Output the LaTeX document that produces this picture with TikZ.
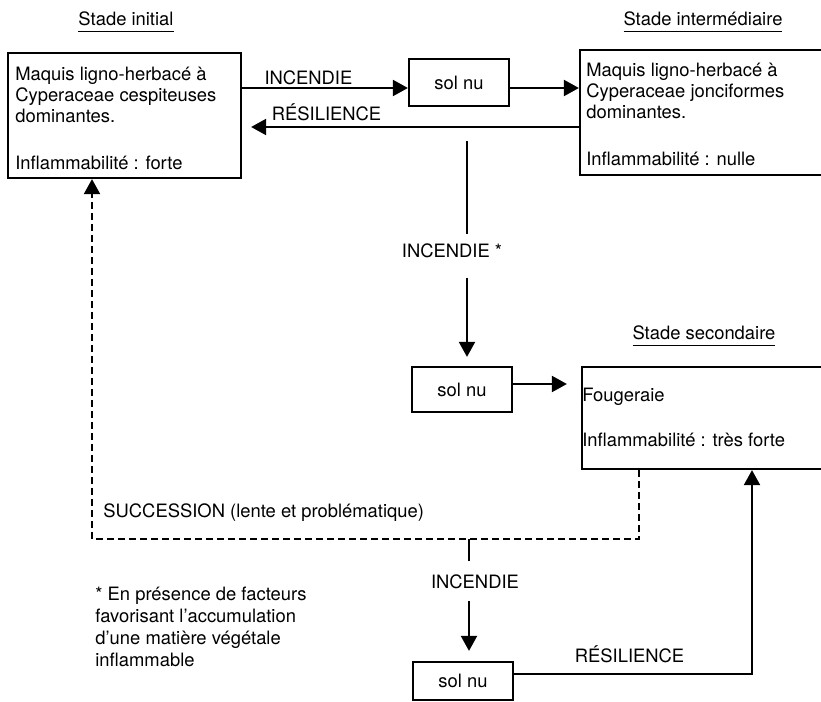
\documentclass[tikz,border=0pt]{standalone}
\usepackage{fontspec}
\setmainfont{TeX Gyre Heros}
\usetikzlibrary{arrows.meta}

\begin{document}
\begin{tikzpicture}[
  x=0.5pt,y=-0.5pt,
  font=\fontsize{9.2}{10.6}\selectfont,
  >={Triangle[length=7.5pt,width=8pt]},
  stage/.style={draw,line width=1.1pt,inner sep=0pt},
  solnu/.style={draw,line width=1.1pt,minimum width=50pt,inner sep=0pt},
  boxtext/.style={anchor=north west,align=left,inner sep=0pt},
  stagetitle/.style={anchor=base,inner sep=0pt},
  flow/.style={->,line width=1pt},
  plain/.style={line width=1pt},
  succ/.style={->,line width=1pt,dash pattern=on 3.5pt off 2pt},
  lbl/.style={inner sep=1pt},
]
\useasboundingbox (0,0) rectangle (821,702);

% ---- stage titles ----
\node[stagetitle] (tInit)   at (126,25)  {\underline{Stade initial\vphantom{g}}};
\node[stagetitle] (tInterm) at (703,25)  {\underline{Stade intermédiaire\vphantom{g}}};
\node[stagetitle] (tSecond) at (704,339) {\underline{Stade secondaire\vphantom{g}}};

% ---- the three stages ----
\node[stage,minimum width=116.5pt,minimum height=62.5pt] (initial) at (124.5,115.5) {};
\node[boxtext] (initialText) at ([xshift=4pt,yshift=-7.2pt]initial.north west)
     {Maquis ligno-herbacé à\\Cyperaceae cespiteuses\\dominantes.\\[12.9pt]
      Inflammabilité : forte};

% right edges run off the page, as in the scan
\node[stage,minimum width=130pt,minimum height=62.5pt] (interm) at (710,112.5) {};
\node[boxtext] (intermText) at ([xshift=3.5pt,yshift=-6.7pt]interm.north west)
     {Maquis ligno-herbacé à\\Cyperaceae jonciformes\\dominantes.\\[12.9pt]
      Inflammabilité : nulle};

\node[stage,minimum width=129pt,minimum height=51pt] (second) at (711,418) {};
\node[boxtext] (secondText) at ([xshift=0.5pt,yshift=-10.9pt]second.north west)
     {Fougeraie\\[11.9pt]Inflammabilité : très forte};

% ---- bare soil after each fire ----
\node[solnu,minimum height=23.5pt] (solA) at (459,82.5) {sol nu};
\node[solnu,minimum height=22.5pt] (solB) at (462,389.5) {sol nu};
\node[solnu,minimum height=19pt]   (solC) at (463,681) {sol nu};

% ---- routing rows and bends ----
\coordinate (rowA) at (0,88);
\coordinate (rowB) at (0,127);
\coordinate (rowC) at (0,384);
\coordinate (rowD) at (0,674);
\coordinate (incTop) at (467,141);
\coordinate (dashR) at (639,539);
\coordinate (dashL) at (92,539);
\coordinate (junc) at (469,539);
\coordinate (resKnee) at (752,674);

% top row: fire, then recovery
\draw[flow] (initial.east |- rowA) -- node[lbl,above=0pt,pos=0.4]{INCENDIE} (solA.west |- rowA);
\draw[flow] (solA.east |- rowA) -- (interm.west |- rowA);
\draw[flow] (interm.west |- rowB)
      -- node[lbl,above=1.5pt,pos=0.77]{RÉSILIENCE} ([xshift=4.5pt]initial.east |- rowB);

% repeated fire down to the fern stage
\node[lbl] (incStar) at (452,250.5) {INCENDIE *};
\draw[plain] (incTop) -- ([yshift=3.5pt]incStar.north -| incTop);
\draw[flow] ([yshift=-9pt]incStar.south -| incTop) -- ([yshift=4.5pt]solB.north -| incTop);
\draw[flow] (solB.east |- rowC) -- ([xshift=-7pt]second.west |- rowC);

% slow succession back to the initial stage
\draw[succ] (second.south -| dashR) -- (dashR) -- (dashL) -- (initial.south -| dashL);
\node[anchor=base west,inner sep=0pt] (succLbl) at (103,517)
     {SUCCESSION (lente et problématique)};

% fire on the fern stage
\node[lbl] (incBot) at (475,581.5) {INCENDIE};
\draw[plain] (junc) -- ([yshift=5.45pt]incBot.north -| junc);
\draw[flow] ([yshift=-5pt]incBot.south -| junc) -- ([yshift=5pt]solC.north -| junc);
\draw[flow] (solC.east |- rowD)
      -- node[lbl,above=4pt,pos=0.485]{RÉSILIENCE} (resKnee)
      -- (second.south -| resKnee);

% footnote
\node[boxtext,font=\fontsize{9.2}{11}\selectfont] (note) at (95,586.4)
     {* En présence de facteurs\\favorisant l'accumulation\\d'une matière végétale\\inflammable};

\end{tikzpicture}
\end{document}
